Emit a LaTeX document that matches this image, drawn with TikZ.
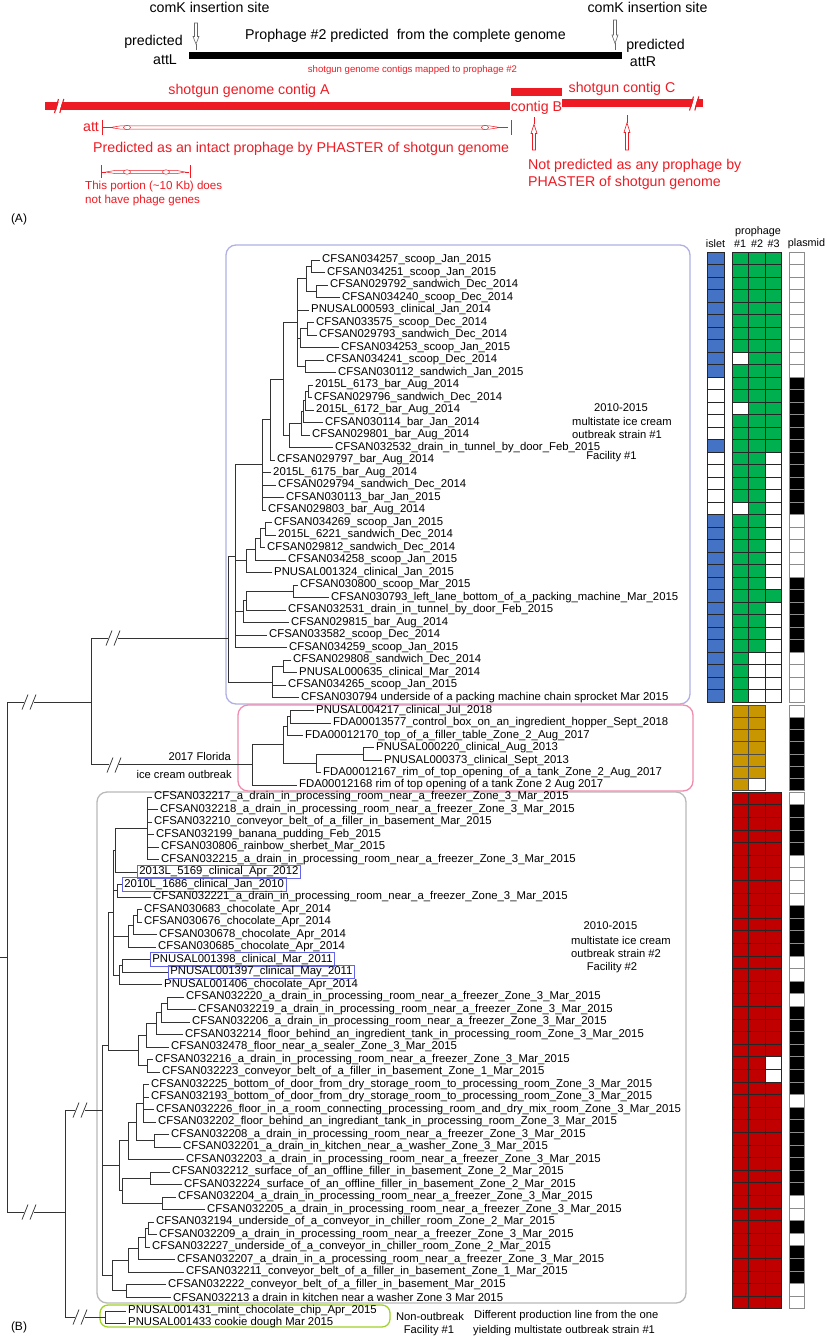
\documentclass[tikz,border=0pt]{standalone}
\usepackage{fontspec}
\setmainfont{Liberation Sans}
\usetikzlibrary{calc}
\definecolor{B}{RGB}{68,114,196}
\definecolor{G}{RGB}{0,176,80}
\definecolor{O}{RGB}{200,150,0}
\definecolor{R}{RGB}{192,0,0}
\definecolor{W}{RGB}{255,255,255}
\definecolor{K}{RGB}{0,0,0}
\definecolor{ared}{RGB}{237,28,36}
\definecolor{bbox}{RGB}{176,176,228}
\definecolor{pbox}{RGB}{240,140,175}
\definecolor{gbox}{RGB}{185,185,185}
\definecolor{lbox}{RGB}{160,210,40}
\definecolor{tagb}{RGB}{100,100,230}
\newcommand\lff{\fontsize{11.35}{12}\selectfont}
\newcommand\lbf{\fontsize{11.2}{13}\selectfont}
\newcommand\lf[4]{\node[leaf] (#1) at ({#2-2},#3) {\detokenize{#4}};}
\newcommand\lfb[4]{\node[leaf,draw=tagb,line width=0.8pt,inner ysep=1.5pt] (#1) at (#2,#3) {\detokenize{#4}};}
\newcommand\inode[4]{\path let \p1=($(#3)!.5!(#4)$) in (#2pt,\y1) coordinate (#1);}
\newcommand\brs[2]{\foreach \ch in {#2} {\draw[tree] (#1) |- (\ch);}}
\newcommand\brk[2]{\fill[white] ({#1-5},{#2-2}) rectangle ({#1+5},{#2+2});
 \draw[tree] ({#1-7},{#2+7.5}) -- ({#1-1},{#2-7.5}) ({#1+1},{#2+7.5}) -- ({#1+7},{#2-7.5});}
\newcommand\hcol[6]{\foreach \cc [count=\i from 0] in {#5} {\filldraw[fill=\cc,draw=#6,line width=0.5pt] (#1,{#3+\i*#4}) rectangle ({#1+#2},{#3+(\i+1)*#4});}}
\newcommand\harrow[4]{\draw[#4,line width=0.6pt,fill=white] ({#1-1.5},#2) -- ({#1+1.5},#2) -- ({#1+1.5},{#2+0.5*(#3-#2)}) -- ({#1+3},{#2+0.5*(#3-#2)}) -- (#1,{#2+0.78*(#3-#2)}) -- ({#1-3},{#2+0.5*(#3-#2)}) -- ({#1-1.5},{#2+0.5*(#3-#2)}) -- cycle;
 \draw[#4,line width=0.6pt] (#1,{#2+0.78*(#3-#2)}) -- (#1,#3);}
\tikzset{
 tree/.style={draw=black!80,line width=0.75pt},
 leaf/.style={anchor=west,inner xsep=2pt,inner ysep=0pt,font=\lff},
 ta/.style={font=\fontsize{14.2}{16}\selectfont,inner sep=0pt},
 tr/.style={ta,text=ared},
 lab/.style={font=\lbf,inner sep=0pt},
 hdr/.style={font=\fontsize{10.8}{12}\selectfont,inner sep=0pt},
 grp/.style={rounded corners=10pt,line width=1.3pt}
}
\begin{document}
\begin{tikzpicture}[x=1pt,y=-1pt]
\useasboundingbox[fill=white] (0,0) rectangle (827,1339);
% ---------------- Panel A ----------------
\node[ta] (ck1) at (209.5,7.5) {comK insertion site};
\node[ta] (ck2) at (647.5,7.5) {comK insertion site};
\harrow{196}{23}{50}{black!60}
\harrow{615}{20}{50}{black!60}
\node[ta] (pl) at (153.5,42) {predicted};
\node[ta] (al) at (165,60) {attL};
\node[ta,anchor=west] (p2) at (245,36) {Prophage \#2 predicted\hspace{4pt} from the complete genome};
\node[ta] (pr) at (655.5,46) {predicted};
\node[ta] (ar) at (643,62) {attR};
\fill[black] (189,52) rectangle (622,59);
\node[tr,font=\fontsize{9.6}{11}\selectfont] (map) at (412.5,70.5) {shotgun genome contigs mapped to prophage \#2};
\node[tr] (cA) at (249,91) {shotgun genome contig A};
\fill[ared] (45,101.7) rectangle (510,110);
\fill[white] (55.5,113) -- (59.5,99) -- (63,99) -- (59,113) -- cycle;
\draw[ared,line width=1.1pt] (54.5,113) -- (58.5,99) (59.8,113) -- (63.8,99);
\fill[ared] (511,88) rectangle (562,96);
\node[tr] (cB) at (536.5,107.5) {contig B};
\fill[ared] (562,99.3) rectangle (703,107.3);
\fill[white] (690.5,110.5) -- (694.5,96.5) -- (698,96.5) -- (694,110.5) -- cycle;
\draw[ared,line width=1.1pt] (689.5,110.5) -- (693.5,96.5) (694.8,110.5) -- (698.8,96.5);
\node[tr] (cC) at (622,89) {shotgun contig C};
\node[tr] (att) at (91,127) {att};
\draw[ared,line width=0.8pt] (102,120) -- (102,135) (511,120) -- (511,135);
\draw[ared,line width=0.5pt] (103,127.5) -- (110,127.5) (500,127.5) -- (508,127.5);
\draw[ared,line width=0.5pt,fill=white] (110,127.5) -- (121,125.8) -- (489,125.8) -- (500,127.5) -- (489,129.2) -- (121,129.2) -- cycle;
\draw[ared,line width=0.5pt,fill=white] (127,127.5) ellipse (3.5pt and 2.2pt) (485,127.5) ellipse (3.5pt and 2.2pt);
\node[tr,anchor=west] (phA) at (93,149) {Predicted as an intact prophage by PHASTER of shotgun genome};
\draw[ared,line width=0.8pt] (101,165) -- (101,178) (190,165) -- (190,178);
\draw[ared,line width=0.5pt] (102,172) -- (106,172) (185,172) -- (189,172);
\draw[ared,line width=0.5pt,fill=white] (106,172) -- (116,170.3) -- (176,170.3) -- (185,172) -- (176,173.7) -- (116,173.7) -- cycle;
\draw[ared,line width=0.5pt,fill=white] (127,172) ellipse (3.5pt and 2.2pt) (166,172) ellipse (3.5pt and 2.2pt);
\node[tr,font=\fontsize{11.6}{13}\selectfont,anchor=west] (tp1) at (85,186) {This portion (\textasciitilde10 Kb) does};
\node[tr,font=\fontsize{11.6}{13}\selectfont,anchor=west] (tp2) at (85,200) {not have phage genes};
\harrow{534}{150}{117}{ared}
\harrow{627}{150}{115}{ared}
\node[tr,anchor=west] (np1) at (528,166) {Not predicted as any prophage by};
\node[tr,anchor=west] (np2) at (528,183) {PHASTER of shotgun genome};
\node[ta,font=\fontsize{12}{14}\selectfont] (pA) at (19,219) {(A)};
\node[ta,font=\fontsize{12}{14}\selectfont] (pBl) at (19,1327) {(B)};
% ---------------- group boxes ----------------
\draw[grp,draw=bbox] (226,245) rectangle (690,704);
\draw[grp,draw=pbox] (238,705) rectangle (693,791);
\draw[grp,draw=gbox] (97,792) rectangle (686,1303);
\draw[grp,draw=lbox,rounded corners=8pt] (100,1305) rectangle (390,1327);
% ---------------- leaves ----------------
\lf{a1}{322}{260}{CFSAN034257_scoop_Jan_2015}
\lf{a2}{327}{272.5}{CFSAN034251_scoop_Jan_2015}
\lf{a3}{330}{285}{CFSAN029792_sandwich_Dec_2014}
\lf{a4}{342}{297.5}{CFSAN034240_scoop_Dec_2014}
\lf{a5}{311}{310}{PNUSAL000593_clinical_Jan_2014}
\lf{a6}{316}{322.5}{CFSAN033575_scoop_Dec_2014}
\lf{a7}{319}{335}{CFSAN029793_sandwich_Dec_2014}
\lf{a8}{341}{347.5}{CFSAN034253_scoop_Jan_2015}
\lf{a9}{326}{360}{CFSAN034241_scoop_Dec_2014}
\lf{a10}{338}{372.5}{CFSAN030112_sandwich_Jan_2015}
\lf{a11}{315}{385}{2015L_6173_bar_Aug_2014}
\lf{a12}{314}{397.5}{CFSAN029796_sandwich_Dec_2014}
\lf{a13}{316}{410}{2015L_6172_bar_Aug_2014}
\lf{a14}{325}{422.5}{CFSAN030114_bar_Jan_2014}
\lf{a15}{312}{435}{CFSAN029801_bar_Aug_2014}
\lf{a16}{335}{447.5}{CFSAN032532_drain_in_tunnel_by_door_Feb_2015}
\lf{a17}{277}{460}{CFSAN029797_bar_Aug_2014}
\lf{a18}{273}{472.5}{2015L_6175_bar_Aug_2014}
\lf{a19}{278}{485}{CFSAN029794_sandwich_Dec_2014}
\lf{a20}{286}{497.5}{CFSAN030113_bar_Jan_2015}
\lf{a21}{268}{510}{CFSAN029803_bar_Aug_2014}
\lf{a22}{274}{522.5}{CFSAN034269_scoop_Jan_2015}
\lf{a23}{278}{535}{2015L_6221_sandwich_Dec_2014}
\lf{a24}{267}{547.5}{CFSAN029812_sandwich_Dec_2014}
\lf{a25}{288}{560}{CFSAN034258_scoop_Jan_2015}
\lf{a26}{274}{572.5}{PNUSAL001324_clinical_Jan_2015}
\lf{a27}{300}{585}{CFSAN030800_scoop_Mar_2015}
\lf{a28}{331}{597.5}{CFSAN030793_left_lane_bottom_of_a_packing_machine_Mar_2015}
\lf{a29}{288}{610}{CFSAN032531_drain_in_tunnel_by_door_Feb_2015}
\lf{a30}{291}{622.5}{CFSAN029815_bar_Aug_2014}
\lf{a31}{269}{635}{CFSAN033582_scoop_Dec_2014}
\lf{a32}{289}{647.5}{CFSAN034259_scoop_Jan_2015}
\lf{a33}{293}{660}{CFSAN029808_sandwich_Dec_2014}
\lf{a34}{299}{672.5}{PNUSAL000635_clinical_Mar_2014}
\lf{a35}{288}{685}{CFSAN034265_scoop_Jan_2015}
\lf{a36}{301}{697.5}{CFSAN030794 underside of a packing machine chain sprocket Mar 2015}
\lf{b1}{316}{710.5}{PNUSAL004217_clinical_Jul_2018}
\lf{b2}{333}{722.9}{FDA00013577_control_box_on_an_ingredient_hopper_Sept_2018}
\lf{b3}{305}{735.3}{FDA00012170_top_of_a_filler_table_Zone_2_Aug_2017}
\lf{b4}{376}{747.7}{PNUSAL000220_clinical_Aug_2013}
\lf{b5}{384}{760.1}{PNUSAL000373_clinical_Sept_2013}
\lf{b6}{323}{772.5}{FDA00012167_rim_of_top_opening_of_a_tank_Zone_2_Aug_2017}
\lf{b7}{299}{784.9}{FDA00012168 rim of top opening of a tank Zone 2 Aug 2017}
\lf{c1}{154}{797}{CFSAN032217_a_drain_in_processing_room_near_a_freezer_Zone_3_Mar_2015}
\lf{c2}{160}{809.5}{CFSAN032218_a_drain_in_processing_room_near_a_freezer_Zone_3_Mar_2015}
\lf{c3}{154}{822}{CFSAN032210_conveyor_belt_of_a_filler_in_basement_Mar_2015}
\lf{c4}{156}{834.5}{CFSAN032199_banana_pudding_Feb_2015}
\lf{c5}{161}{847}{CFSAN030806_rainbow_sherbet_Mar_2015}
\lf{c6}{161}{859.5}{CFSAN032215_a_drain_in_processing_room_near_a_freezer_Zone_3_Mar_2015}
\lfb{c7}{137}{872}{2013L_5169_clinical_Apr_2012}
\lfb{c8}{122}{884.5}{2010L_1686_clinical_Jan_2010}
\lf{c9}{153}{897}{CFSAN032221_a_drain_in_processing_room_near_a_freezer_Zone_3_Mar_2015}
\lf{c10}{144}{909.5}{CFSAN030683_chocolate_Apr_2014}
\lf{c11}{144}{922}{CFSAN030676_chocolate_Apr_2014}
\lf{c12}{159}{934.5}{CFSAN030678_chocolate_Apr_2014}
\lf{c13}{158}{947}{CFSAN030685_chocolate_Apr_2014}
\lfb{c14}{150}{959.5}{PNUSAL001398_clinical_Mar_2011}
\lfb{c15}{168}{972}{PNUSAL001397_clinical_May_2011}
\lf{c16}{164}{984.5}{PNUSAL001406_chocolate_Apr_2014}
\lf{c17}{186}{997}{CFSAN032220_a_drain_in_processing_room_near_a_freezer_Zone_3_Mar_2015}
\lf{c18}{198}{1009.5}{CFSAN032219_a_drain_in_processing_room_near_a_freezer_Zone_3_Mar_2015}
\lf{c19}{192}{1022}{CFSAN032206_a_drain_in_processing_room_near_a_freezer_Zone_3_Mar_2015}
\lf{c20}{185}{1034.5}{CFSAN032214_floor_behind_an_ingredient_tank_in_processing_room_Zone_3_Mar_2015}
\lf{c21}{171}{1047}{CFSAN032478_floor_near_a_sealer_Zone_3_Mar_2015}
\lf{c22}{155}{1059.5}{CFSAN032216_a_drain_in_processing_room_near_a_freezer_Zone_3_Mar_2015}
\lf{c23}{162}{1072}{CFSAN032223_conveyor_belt_of_a_filler_in_basement_Zone_1_Mar_2015}
\lf{c24}{151}{1084.5}{CFSAN032225_bottom_of_door_from_dry_storage_room_to_processing_room_Zone_3_Mar_2015}
\lf{c25}{151}{1097}{CFSAN032193_bottom_of_door_from_dry_storage_room_to_processing_room_Zone_3_Mar_2015}
\lf{c26}{156}{1109.5}{CFSAN032226_floor_in_a_room_connecting_processing_room_and_dry_mix_room_Zone_3_Mar_2015}
\lf{c27}{158}{1122}{CFSAN032202_floor_behind_an_ingrediant_tank_in_processing_room_Zone_3_Mar_2015}
\lf{c28}{171}{1134.5}{CFSAN032208_a_drain_in_processing_room_near_a_freezer_Zone_3_Mar_2015}
\lf{c29}{183}{1147}{CFSAN032201_a_drain_in_kitchen_near_a_washer_Zone_3_Mar_2015}
\lf{c30}{186}{1159.5}{CFSAN032203_a_drain_in_processing_room_near_a_freezer_Zone_3_Mar_2015}
\lf{c31}{172}{1172}{CFSAN032212_surface_of_an_offline_filler_in_basement_Zone_2_Mar_2015}
\lf{c32}{184}{1184.5}{CFSAN032224_surface_of_an_offline_filler_in_basement_Zone_2_Mar_2015}
\lf{c33}{178}{1197}{CFSAN032204_a_drain_in_processing_room_near_a_freezer_Zone_3_Mar_2015}
\lf{c34}{207}{1209.5}{CFSAN032205_a_drain_in_processing_room_near_a_freezer_Zone_3_Mar_2015}
\lf{c35}{156}{1222}{CFSAN032194_underside_of_a_conveyor_in_chiller_room_Zone_2_Mar_2015}
\lf{c36}{159}{1234.5}{CFSAN032209_a_drain_in_processing_room_near_a_freezer_Zone_3_Mar_2015}
\lf{c37}{152}{1247}{CFSAN032227_underside_of_a_conveyor_in_chiller_room_Zone_2_Mar_2015}
\lf{c38}{177}{1259.5}{CFSAN032207_a_drain_in_a_processing_room_near_a_freezer_Zone_3_Mar_2015}
\lf{c39}{186}{1272}{CFSAN032211_conveyor_belt_of_a_filler_in_basement_Zone_1_Mar_2015}
\lf{c40}{168}{1284.5}{CFSAN032222_conveyor_belt_of_a_filler_in_basement_Mar_2015}
\lf{c41}{173}{1297}{CFSAN032213 a drain in kitchen near a washer Zone 3 Mar 2015}
\lf{d1}{128}{1311}{PNUSAL001431_mint_chocolate_chip_Apr_2015}
\lf{d2}{128}{1323}{PNUSAL001433 cookie dough Mar 2015}
% ---------------- tree: group 1 ----------------
\inode{p12}{311}{a1.west}{a2.west}\brs{p12}{a1.west,a2.west}
\inode{p34}{316}{a3.west}{a4.west}\brs{p34}{a3.west,a4.west}
\inode{pA}{306}{p12}{p34}\brs{pA}{p12,p34}
\inode{p67}{307}{a6.west}{a7.west}\brs{p67}{a6.west,a7.west}
\inode{p678}{300}{p67}{a8.west}\brs{p678}{p67,a8.west}
\inode{p910}{305}{a9.west}{a10.west}\brs{p910}{a9.west,a10.west}
\inode{pB}{297}{pA}{p910}\brs{pB}{pA,a5.west,p678,p910}
\inode{p1112}{308}{a11.west}{a12.west}\brs{p1112}{a11.west,a12.west}
\inode{p1113}{305}{p1112}{a13.west}\brs{p1113}{p1112,a13.west}
\inode{p1114}{303}{p1113}{a14.west}\brs{p1114}{p1113,a14.west}
\inode{p1115}{301}{p1114}{a15.west}\brs{p1115}{p1114,a15.west}
\inode{p16}{289}{p1115}{a16.west}\brs{p16}{p1115,a16.west}
\inode{pC}{283}{pB}{p16}\brs{pC}{pB,p16}
\inode{pD}{270}{pC}{a17.west}\brs{pD}{pC,a17.west}
\inode{pE}{262}{pD}{a21.west}\brs{pE}{pD,a18.west,a19.west,a20.west,a21.west}
\inode{q2223}{265}{a22.west}{a23.west}\brs{q2223}{a22.west,a23.west}
\inode{q2224}{260}{q2223}{a24.west}\brs{q2224}{q2223,a24.west}
\inode{q2225}{255}{q2224}{a25.west}\brs{q2225}{q2224,a25.west}
\inode{q2226}{246}{q2225}{a26.west}\brs{q2226}{q2225,a26.west}
\inode{q2728}{293}{a27.west}{a28.west}\brs{q2728}{a27.west,a28.west}
\inode{q2729}{246}{q2728}{a29.west}\brs{q2729}{q2728,a29.west}
\inode{q2730}{243}{q2729}{a30.west}\brs{q2730}{q2729,a30.west}
\inode{q3334}{283}{a33.west}{a34.west}\brs{q3334}{a33.west,a34.west}
\inode{q3336}{272}{q3334}{a36.west}\brs{q3336}{q3334,a35.west,a36.west}
\inode{qX}{235}{pE}{a32.west}\brs{qX}{pE,q2226,q2730,a31.west,a32.west}
\coordinate (g1) at (228,638);\brs{g1}{qX,q3336}
% ---------------- tree: group 2 ----------------
\inode{r12}{290}{b1.west}{b2.west}\brs{r12}{b1.west,b2.west}
\inode{r123}{287}{r12}{b3.west}\brs{r123}{r12,b3.west}
\inode{r45}{363}{b4.west}{b5.west}\brs{r45}{b4.west,b5.west}
\inode{r456}{316}{r45}{b6.west}\brs{r456}{r45,b6.west}
\inode{r16}{283}{r123}{r456}\brs{r16}{r123,r456}
\inode{g2}{252}{r16}{b7.west}\brs{g2}{r16,b7.west}
\coordinate (h91) at (91,702);\brs{h91}{g1,g2}
% ---------------- tree: group 3 ----------------
\inode{s16}{147}{c1.west}{c6.west}\brs{s16}{c1.west,c2.west,c3.west,c4.west,c5.west,c6.west}
\inode{s17}{115}{s16}{c7.west}\brs{s17}{s16,c7.west}
\inode{s89}{117}{c8.west}{c9.west}\brs{s89}{c8.west,c9.west}
\inode{s1011}{137}{c10.west}{c11.west}\brs{s1011}{c10.west,c11.west}
\inode{s1012}{133}{s1011}{c12.west}\brs{s1012}{s1011,c12.west}
\inode{s1013}{128}{s1012}{c13.west}\brs{s1013}{s1012,c13.west}
\inode{s1415}{122}{c14.west}{c15.west}\brs{s1415}{c14.west,c15.west}
\inode{s1416}{119}{s1415}{c16.west}\brs{s1416}{s1415,c16.west}
\inode{T1}{113}{s17}{s1416}\brs{T1}{s17,s89,s1013,s1416}
\inode{t1718}{167}{c17.west}{c18.west}\brs{t1718}{c17.west,c18.west}
\inode{t1719}{161}{t1718}{c19.west}\brs{t1719}{t1718,c19.west}
\inode{t1720}{156}{t1719}{c20.west}\brs{t1720}{t1719,c20.west}
\inode{t1721}{146}{t1720}{c21.west}\brs{t1721}{t1720,c21.west}
\inode{t2223}{147}{c22.west}{c23.west}\brs{t2223}{c22.west,c23.west}
\inode{t1723}{138}{t1721}{t2223}\brs{t1723}{t1721,t2223}
\coordinate (f1) at (108,1045);\brs{f1}{T1,t1723}
\inode{u2427}{143}{c24.west}{c27.west}\brs{u2427}{c24.west,c25.west,c26.west,c27.west}
\inode{u2829}{154}{c28.west}{c29.west}\brs{u2829}{c28.west,c29.west}
\inode{u2429}{136}{u2427}{u2829}\brs{u2429}{u2427,u2829}
\inode{u2430}{128}{u2429}{c30.west}\brs{u2430}{u2429,c30.west}
\inode{u3132}{150}{c31.west}{c32.west}\brs{u3132}{c31.west,c32.west}
\inode{u3334}{162}{c33.west}{c34.west}\brs{u3334}{c33.west,c34.west}
\inode{u3134}{122}{u3132}{u3334}\brs{u3134}{u3132,u3334}
\inode{u3034}{119}{u2430}{u3134}\brs{u3034}{u2430,u3134}
\inode{v3536}{148}{c35.west}{c36.west}\brs{v3536}{c35.west,c36.west}
\inode{v3537}{145}{v3536}{c37.west}\brs{v3537}{v3536,c37.west}
\inode{v3538}{138}{v3537}{c38.west}\brs{v3538}{v3537,c38.west}
\inode{v3539}{128}{v3538}{c39.west}\brs{v3539}{v3538,c39.west}
\inode{v4041}{126}{c40.west}{c41.west}\brs{v4041}{c40.west,c41.west}
\inode{v3541}{112}{v3539}{v4041}\brs{v3541}{v3539,v4041}
\coordinate (g3) at (102,1110);\brs{g3}{f1,u3034,v3541}
\inode{w}{105}{d1.west}{d2.west}\brs{w}{d1.west,d2.west}
\coordinate (h65) at (65,1212);\brs{h65}{g3,w}
\coordinate (root) at (7,957);\brs{root}{h91,h65}
\coordinate (rs) at (0,957);\draw[tree] (rs) -- (root);
\brk{113}{638}\brk{114}{765}\brk{29}{702}\brk{29}{1212}\brk{80}{1110}\brk{80}{1317}
% ---------------- labels ----------------
\node[lab] (l1a) at (621,408) {2010-2015};
\node[lab,anchor=west] (l1b) at (572,421.5) {multistate ice cream};
\node[lab,anchor=west] (l1c) at (572,434.5) {outbreak strain \#1};
\node[lab] (l1d) at (611.5,457) {Facility \#1};
\node[lab,anchor=east] (l2a) at (231,756) {2017 Florida};
\node[lab,anchor=east] (l2b) at (232,774) {ice cream outbreak};
\node[lab] (l3a) at (610.5,926) {2010-2015};
\node[lab,anchor=west] (l3b) at (571,940) {multistate ice cream};
\node[lab,anchor=west] (l3c) at (571,953) {outbreak strain \#2};
\node[lab] (l3d) at (612,968) {Facility \#2};
\node[lab] (l4a) at (430,1316) {Non-outbreak};
\node[lab] (l4b) at (429,1331) {Facility \#1};
\node[lab,anchor=west] (l5a) at (474,1316) {Different production line from the one};
\node[lab,anchor=west] (l5b) at (473,1331) {yielding multistate outbreak strain \#1};
% ---------------- heat map ----------------
\node[hdr] (hi) at (715.5,244) {islet};
\node[hdr] (hp) at (758,232) {prophage};
\node[hdr] (h1) at (740,244) {\#1};
\node[hdr] (h2) at (757,244) {\#2};
\node[hdr] (h3) at (773.5,244) {\#3};
\node[hdr] (hpl) at (806.5,244) {plasmid};
% group 1
\hcol{707}{17}{252}{12.5}{B,B,B,B,B,B,B,B,B,B,W,W,W,W,W,B,W,W,W,W,W,B,B,B,B,B,B,B,B,B,B,B,B,B,B,B}{black!85}
\hcol{732}{16.5}{252}{12.5}{G,G,G,G,G,G,G,G,W,G,G,G,W,G,G,G,G,G,G,G,W,G,G,G,G,G,G,G,G,G,G,G,G,G,G,G}{black!85}
\hcol{748.5}{16.5}{252}{12.5}{G,G,G,G,G,G,G,G,G,G,G,G,G,G,G,G,G,G,G,G,G,G,G,G,G,G,G,G,G,G,G,G,W,W,W,W}{black!85}
\hcol{765}{16.5}{252}{12.5}{G,G,G,G,G,G,G,G,G,G,G,G,G,G,G,G,W,W,W,W,W,W,W,W,W,W,W,G,W,W,W,W,W,W,W,W}{black!85}
\hcol{789}{15}{252}{12.5}{W,W,W,W,W,W,W,W,W,W,K,K,K,K,K,K,K,K,K,K,K,W,W,W,W,W,K,K,K,K,K,K,W,W,W,W}{black!45}
% group 2
\hcol{732}{16.5}{705}{12.2}{O,O,O,O,O,O,O}{black!70}
\hcol{748.5}{16.5}{705}{12.2}{O,O,O,O,O,O,W}{black!70}
\hcol{789}{15}{705}{12.2}{W,K,K,K,K,K,K}{black!45}
% group 3
\hcol{732}{16.5}{792}{12.6}{R,R,R,R,R,R,R,R,R,R,R,R,R,R,R,R,R,R,R,R,R,R,R,R,R,R,R,R,R,R,R,R,R,R,R,R,R,R,R,R,R}{black!85}
\hcol{748.5}{16.5}{792}{12.6}{R,R,R,R,R,R,R,R,R,R,R,R,R,R,R,R,R,R,R,R,R,R,R,R,R,R,R,R,R,R,R,R,R,R,R,R,R,R,R,R,R}{black!85}
\hcol{765}{16.5}{792}{12.6}{R,R,R,R,R,R,R,R,R,R,R,R,R,R,R,R,R,R,R,R,R,W,W,R,R,R,R,R,R,R,R,R,R,R,R,R,R,R,R,R,R}{black!85}
\hcol{789}{15}{792}{12.6}{W,K,K,K,K,W,W,W,W,K,K,K,K,W,W,K,W,K,K,K,K,K,K,K,W,K,K,K,K,K,K,K,W,W,K,W,K,K,K,W,W}{black!45}
\end{tikzpicture}
\end{document}
